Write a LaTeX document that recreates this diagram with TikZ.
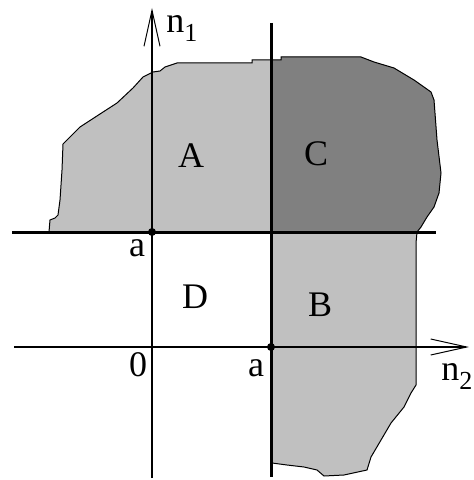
\documentclass[tikz,border=0pt]{standalone}
\usepackage{fontspec}
\setmainfont{Liberation Serif}
\usetikzlibrary{arrows.meta}
\definecolor{claro}{HTML}{C0C0C0}
\definecolor{escuro}{HTML}{808080}
\newcommand{\ind}[1]{\raisebox{-4.5pt}{\fontsize{13}{14}\selectfont #1}}
% contour of the shaded set (pixel units, y downwards)
\newcommand{\contorno}{(272,463) -- (287,465) -- (304,467) -- (317,470) -- (324,476)
  -- (344,475) -- (367,470) -- (371,457) -- (381,440) -- (391,423) -- (404,407)
  -- (411,393) -- (416,385) -- (416,243) -- (417,232) -- (421,227) -- (427,217)
  -- (434,207) -- (439,193) -- (441,173) -- (437,140) -- (434,100) -- (431,92)
  -- (414,80) -- (394,68) -- (374,62) -- (361,57) -- (281,57) -- (281,60)
  -- (252,60) -- (252,63) -- (177,63) -- (165,67) -- (160,71) -- (153,72)
  -- (143,77) -- (133,88) -- (117,103) -- (100,114) -- (80,127) -- (63,144)
  -- (62,170) -- (60,200) -- (58,215) -- (55,218) -- (50,220) -- (49,232)
  -- (272,232) -- cycle}

\begin{document}
\begin{tikzpicture}[x=0.5pt, y=-0.5pt,
    eixo/.style={line width=0.7pt, -{Straight Barb[length=18pt, width=8pt, line width=0.5pt]}},
    corte/.style={line width=1.5pt},
    borda/.style={line width=0.5pt},
    rotulo/.style={font=\fontsize{18}{20}\selectfont, inner sep=0pt},
    ponto/.style={fill=black}]
  \useasboundingbox (0,0) rectangle (474,480);
  \fill[claro] \contorno;
  \begin{scope}
    \clip (271,0) rectangle (474,232);
    \fill[escuro] \contorno;
  \end{scope}
  \draw[borda] \contorno;
  % axes
  \coordinate (n1a) at (152,478);
  \coordinate (n1b) at (152,8);
  \coordinate (n2a) at (14,347);
  \coordinate (n2b) at (469,347);
  \draw[eixo] (n1a) -- (n1b);
  \draw[eixo] (n2a) -- (n2b);
  % lines n = a
  \coordinate (ha) at (12,232);
  \coordinate (hb) at (436,232);
  \coordinate (va) at (271,23);
  \coordinate (vb) at (271,477);
  \draw[corte] (ha) -- (hb);
  \draw[corte] (va) -- (vb);
  \coordinate (p1) at (152,232);
  \coordinate (p2) at (271,347);
  \fill[ponto] (p1) circle (2pt);
  \fill[ponto] (p2) circle (2pt);
  \node[rotulo] (lA) at (191,156) {A};
  \node[rotulo] (lC) at (316,154) {C};
  \node[rotulo] (lD) at (195,297) {D};
  \node[rotulo] (lB) at (320,305) {B};
  \node[rotulo, anchor=base] (la1) at (137,256) {a};
  \node[rotulo, anchor=base] (l0) at (138,376) {0};
  \node[rotulo, anchor=base] (la2) at (256,376) {a};
  \node[rotulo, anchor=base west] (ln1) at (166,33) {n\ind{1}};
  \node[rotulo, anchor=base west] (ln2) at (441,380) {n\ind{2}};
\end{tikzpicture}
\end{document}
